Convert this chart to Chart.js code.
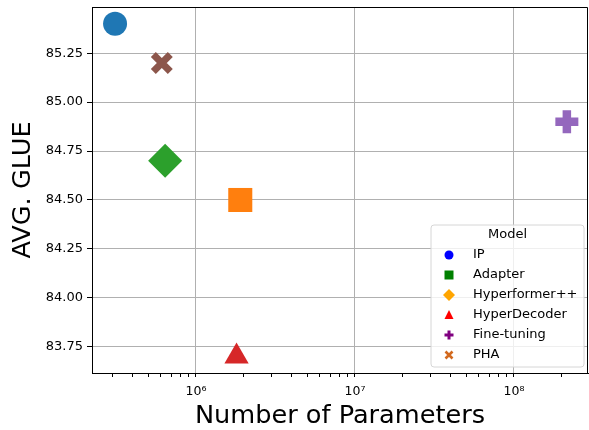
<!doctype html>
<html>
<head>
<meta charset="utf-8"/>
<title>Parameters vs GLUE</title>
<style>
  html, body { margin: 0; padding: 0; background: #fff; }
  #chart { display: block; }
</style>
</head>
<body>
<canvas id="chart" width="589" height="430"></canvas>
<script src="https://cdn.jsdelivr.net/npm/chart.js@4.4.1/dist/chart.umd.min.js"></script>
<script>
// values
var models = ['IP', 'Adapter', 'Hyperformer++', 'HyperDecoder', 'Fine-tuning', 'PHA'];
var params = [3.1e5, 1.9e6, 6.4e5, 1.8e6, 2.15e8, 6.1e5];
var glue = [85.40, 84.50, 84.70, 83.70, 84.90, 85.20];
var yTicks = [83.75, 84.00, 84.25, 84.50, 84.75, 85.00, 85.25];
var xDecades = [1e6, 1e7, 1e8];
var xRange = [2.22e5, 2.92e8];
var yRange = [83.616, 85.486];

// marker look (the plotted colours differ from the legend ones in the original)
var markerColors = ['#1f77b4', '#ff7f0e', '#2ca02c', '#d62728', '#9467bd', '#8c564b'];
var legendColors = ['#0000ff', '#008000', '#ffa500', '#ff0000', '#800080', '#d2691e'];
var markerStyles = ['circle', 'rect', 'rectRot', 'triangle', 'cross', 'crossRot'];
var markerRadius = [12, 17, 17, 14, 11.5, 12];
var markerBorder = [0, 0, 0, 0, 8.5, 7];

var FONT = "'DejaVu Sans', sans-serif";
var sup = { '5': '\u2075', '6': '\u2076', '7': '\u2077', '8': '\u2078', '9': '\u2079' };

// log ticks: 1..9 times each decade inside the range
var xTicks = [];
for (var e = 5; e <= 8; e++) {
    for (var m = 1; m <= 9; m++) {
        var v = m * Math.pow(10, e);
        if (v >= xRange[0] && v <= xRange[1]) xTicks.push(v);
    }
}
function isDecade(v) {
    return xDecades.some(function (d) { return Math.abs(v - d) / d < 1e-9; });
}
function noPad(s) {
    s.paddingTop = 0; s.paddingBottom = 0; s.paddingLeft = 0; s.paddingRight = 0;
}

var datasets = models.map(function (name, i) {
    return {
        label: name,
        data: [{ x: params[i], y: glue[i] }],
        pointStyle: markerStyles[i],
        pointRadius: markerRadius[i],
        pointHoverRadius: markerRadius[i],
        pointBorderWidth: markerBorder[i],
        pointBackgroundColor: markerColors[i],
        pointBorderColor: markerColors[i],
        showLine: false
    };
});

// top and right spines
var framePlugin = {
    id: 'frame',
    beforeDatasetsDraw: function (chart) {
        var a = chart.chartArea, ctx = chart.ctx;
        ctx.save();
        ctx.strokeStyle = '#000';
        ctx.lineWidth = 1;
        ctx.beginPath();
        ctx.moveTo(Math.round(a.left), Math.round(a.top) + 0.5);
        ctx.lineTo(Math.round(a.right) - 0.5, Math.round(a.top) + 0.5);
        ctx.lineTo(Math.round(a.right) - 0.5, Math.round(a.bottom));
        ctx.stroke();
        ctx.restore();
    }
};

function legendMarker(ctx, style, x, y, color) {
    ctx.fillStyle = color;
    ctx.strokeStyle = color;
    ctx.beginPath();
    if (style === 'circle') {
        ctx.arc(x, y, 4.5, 0, Math.PI * 2);
        ctx.fill();
    } else if (style === 'rect') {
        ctx.rect(x - 4.5, y - 4.5, 9, 9);
        ctx.fill();
    } else if (style === 'rectRot') {
        ctx.moveTo(x - 6, y); ctx.lineTo(x, y - 6); ctx.lineTo(x + 6, y); ctx.lineTo(x, y + 6);
        ctx.closePath();
        ctx.fill();
    } else if (style === 'triangle') {
        ctx.moveTo(x, y - 5); ctx.lineTo(x + 4.5, y + 4); ctx.lineTo(x - 4.5, y + 4);
        ctx.closePath();
        ctx.fill();
    } else if (style === 'cross') {
        ctx.lineWidth = 3;
        ctx.moveTo(x - 4.5, y); ctx.lineTo(x + 4.5, y);
        ctx.moveTo(x, y - 4.5); ctx.lineTo(x, y + 4.5);
        ctx.stroke();
    } else {
        ctx.lineWidth = 2.6;
        ctx.moveTo(x - 3.5, y - 3.5); ctx.lineTo(x + 3.5, y + 3.5);
        ctx.moveTo(x + 3.5, y - 3.5); ctx.lineTo(x - 3.5, y + 3.5);
        ctx.stroke();
    }
}

// legend box inside the plot, lower right
var legendPlugin = {
    id: 'boxLegend',
    afterDraw: function (chart) {
        var ctx = chart.ctx;
        var bx = 431, by = 225, bw = 153, bh = 142, r = 3;
        ctx.save();
        ctx.beginPath();
        ctx.moveTo(bx + r, by);
        ctx.arcTo(bx + bw, by, bx + bw, by + bh, r);
        ctx.arcTo(bx + bw, by + bh, bx, by + bh, r);
        ctx.arcTo(bx, by + bh, bx, by, r);
        ctx.arcTo(bx, by, bx + bw, by, r);
        ctx.closePath();
        ctx.fillStyle = 'rgba(255,255,255,0.8)';
        ctx.fill();
        ctx.strokeStyle = '#d6d6d6';
        ctx.lineWidth = 1;
        ctx.stroke();

        ctx.font = '13px ' + FONT;
        ctx.textBaseline = 'middle';
        ctx.fillStyle = '#000';
        ctx.textAlign = 'center';
        ctx.fillText('Model', bx + bw / 2, 235);
        ctx.textAlign = 'left';
        models.forEach(function (name, i) {
            var y = 255 + i * 20;
            legendMarker(ctx, markerStyles[i], 449, y, legendColors[i]);
            ctx.fillStyle = '#000';
            ctx.fillText(name, 473, y);
        });
        ctx.restore();
    }
};

new Chart(document.getElementById('chart'), {
    type: 'scatter',
    data: { datasets: datasets },
    options: {
        responsive: false,
        animation: false,
        devicePixelRatio: 1,
        layout: { autoPadding: false, padding: { top: 7, right: 1, left: 0, bottom: 0 } },
        plugins: {
            legend: { display: false },
            tooltip: { enabled: false }
        },
        scales: {
            x: {
                type: 'logarithmic',
                min: xRange[0],
                max: xRange[1],
                afterBuildTicks: function (s) {
                    s.ticks = xTicks.map(function (v) { return { value: v }; });
                },
                afterFit: function (s) { s.height = 57; noPad(s); },
                grid: {
                    color: function (c) { return c.tick && isDecade(c.tick.value) ? '#b0b0b0' : 'rgba(0,0,0,0)'; },
                    tickColor: '#000',
                    tickLength: 4,
                    lineWidth: 1
                },
                border: { color: '#000', width: 1 },
                ticks: {
                    autoSkip: false,
                    maxRotation: 0,
                    padding: 7,
                    color: '#000',
                    font: { family: FONT, size: 12.5 },
                    callback: function (v) {
                        if (!isDecade(v)) return '';
                        var ex = String(Math.round(Math.log10(v)));
                        return '10' + ex.split('').map(function (c) { return sup[c]; }).join('');
                    }
                },
                title: {
                    display: true,
                    text: 'Number of Parameters',
                    color: '#000',
                    font: { family: FONT, size: 25.6, lineHeight: 1 },
                    padding: { top: 0, bottom: 1 }
                }
            },
            y: {
                min: yRange[0],
                max: yRange[1],
                afterBuildTicks: function (s) {
                    s.ticks = yTicks.map(function (v) { return { value: v }; });
                },
                afterFit: function (s) { s.width = 92; noPad(s); },
                grid: {
                    color: '#b0b0b0',
                    tickColor: '#000',
                    tickLength: 5,
                    lineWidth: 1
                },
                border: { color: '#000', width: 1 },
                ticks: {
                    padding: 4,
                    color: '#000',
                    font: { family: FONT, size: 13 },
                    callback: function (v) { return Number(v).toFixed(2); }
                },
                title: {
                    display: true,
                    text: 'AVG. GLUE',
                    color: '#000',
                    font: { family: FONT, size: 25.6, lineHeight: 1 },
                    padding: { top: 11, bottom: 0 }
                }
            }
        }
    },
    plugins: [framePlugin, legendPlugin]
});
</script>
</body>
</html>
